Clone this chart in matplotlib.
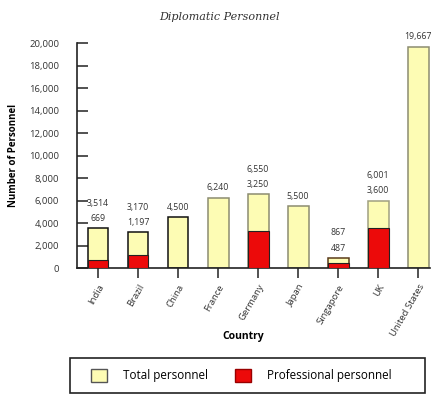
import matplotlib as mpl
import matplotlib.pyplot as plt
from matplotlib.patches import Patch, Rectangle
from matplotlib.ticker import FuncFormatter

countries = ["India", "Brazil", "China", "France", "Germany", "Japan",
             "Singapore", "UK", "United States"]
total = [3514, 3170, 4500, 6240, 6550, 5500, 867, 6001, 19667]
professional = [669, 1197, 0, 0, 3250, 0, 487, 3600, 0]

YELLOW = "#fdfcb4"
RED = "#ec0a0a"
edges = ["#111111", "#111111", "#111111", "#8c8c70", "#8c8c70", "#8c8c70",
         "#5a3a1a", "#a0a080", "#8c8c70"]

mpl.rcParams.update({
    "font.family": "sans-serif",
    "font.sans-serif": ["Open Sans", "DejaVu Sans"],
    "font.size": 6.5,
})

W, H = 438, 395
fig = plt.figure(figsize=(W / 100, H / 100), dpi=100)
ax = fig.add_axes([0.176, 0.3215, 0.806, 0.5695])

x = list(range(len(countries)))
ax.bar(x, total, width=0.52, color=YELLOW, edgecolor=edges, linewidth=1.1, zorder=2)
ax.bar(x, professional, width=0.52, color=RED, edgecolor="#222222",
       linewidth=[0.8 if p else 0 for p in professional], zorder=3)

for xi, t, p in zip(x, total, professional):
    if p:
        ax.annotate(f"{p:,}", (xi, t), xytext=(0, 4), textcoords="offset points",
                    ha="center", va="bottom", fontsize=6.3, color="#333333")
        ax.annotate(f"{t:,}", (xi, t), xytext=(0, 15), textcoords="offset points",
                    ha="center", va="bottom", fontsize=6.3, color="#333333")
    else:
        ax.annotate(f"{t:,}", (xi, t), xytext=(0, 4), textcoords="offset points",
                    ha="center", va="bottom", fontsize=6.3, color="#333333")

ax.set_xlim(-0.525, 8.3)
ax.set_ylim(0, 20000)
ax.set_yticks(range(0, 20001, 2000))
ax.yaxis.set_major_formatter(FuncFormatter(lambda v, _: f"{int(v):,}"))
ax.tick_params(axis="y", direction="in", length=8, width=1.2, pad=13,
               labelsize=6.8, colors="#333333")
ax.tick_params(axis="x", direction="out", length=7, width=1.2, labelsize=6.8,
               colors="#333333")
ax.set_xticks(x)
ax.set_xticklabels(countries, rotation=60, ha="right", rotation_mode="anchor")

for side in ("top", "right"):
    ax.spines[side].set_visible(False)
for side in ("left", "bottom"):
    ax.spines[side].set_linewidth(1.2)
    ax.spines[side].set_color("#222222")

ax.set_ylabel("Number of Personnel", fontweight="bold", fontsize=7)
ax.set_xlabel("Country", fontweight="bold", fontsize=7.5)
ax.yaxis.set_label_coords(-0.165, 0.5)
ax.xaxis.set_label_coords(0.47, -0.28)

fig.text(0.5, 0.958, "Diplomatic Personnel", ha="center", va="center",
         fontsize=8, style="italic", family="DejaVu Serif", color="#333333")

# legend box drawn separately so it can be wider than its contents
fig.patches.append(Rectangle((70 / W, 2 / H), 355 / W, 35 / H, transform=fig.transFigure,
                             facecolor="white", edgecolor="#222222", linewidth=1.2))
handles = [Patch(facecolor=YELLOW, edgecolor="#555555", label="Total personnel"),
           Patch(facecolor=RED, edgecolor="#990000", label="Professional personnel")]
fig.legend(handles=handles, loc="center left", bbox_to_anchor=(91 / W, 19.5 / H),
           ncol=2, frameon=False, fontsize=8.4, handlelength=1.35,
           handleheight=1.35, borderpad=0, borderaxespad=0,
           handletextpad=1.4, columnspacing=2.3)

fig.savefig("out.png", dpi=100)
